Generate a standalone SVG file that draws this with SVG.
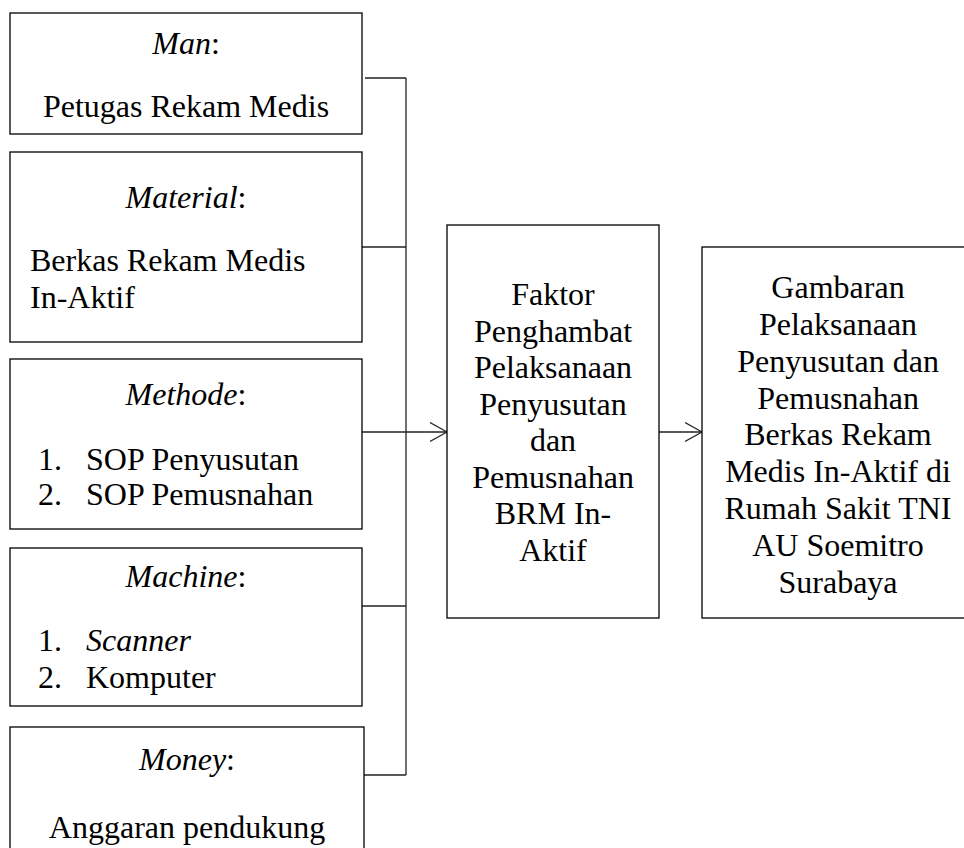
<svg xmlns="http://www.w3.org/2000/svg" width="964" height="848" viewBox="0 0 964 848">
<defs>
<style>
.box{fill:#fff;stroke:#000;stroke-width:1.3}
.t{font-family:"Liberation Serif","Times New Roman",serif;font-size:32px;fill:#000}
.c{text-anchor:middle}
.i{font-style:italic}
.ln{fill:none;stroke:#222;stroke-width:1.3}
</style>
<marker id="arr" markerUnits="userSpaceOnUse" markerWidth="20" markerHeight="22" refX="17" refY="10" orient="auto">
<path d="M0,0.5 L17,10 L0,19.5" fill="none" stroke="#222" stroke-width="1.2"/>
</marker>
</defs>
<rect width="964" height="848" fill="#fff"/>
<g id="connectors">
<line class="ln" x1="406" y1="78" x2="406" y2="775"/>
<line class="ln" x1="365" y1="78" x2="406" y2="78"/>
<line class="ln" x1="361" y1="247" x2="406" y2="247"/>
<line class="ln" x1="362" y1="606" x2="406" y2="606"/>
<line class="ln" x1="362" y1="775" x2="406" y2="775"/>
<line class="ln" x1="362" y1="432" x2="447" y2="432" marker-end="url(#arr)"/>
<line class="ln" x1="659" y1="432" x2="702" y2="432" marker-end="url(#arr)"/>
</g>
<g id="man">
<rect class="box" x="10" y="13" width="352" height="121"/>
<text class="t c" x="186" y="54"><tspan class="i">Man</tspan>:</text>
<text class="t c" x="186" y="117">Petugas Rekam Medis</text>
</g>
<g id="material">
<rect class="box" x="10" y="152" width="352" height="190"/>
<text class="t c" x="186" y="208"><tspan class="i">Material</tspan>:</text>
<text class="t" x="30" y="271">Berkas Rekam Medis</text>
<text class="t" x="30" y="308">In-Aktif</text>
</g>
<g id="methode">
<rect class="box" x="10" y="359" width="352" height="170"/>
<text class="t c" x="186" y="405"><tspan class="i">Methode</tspan>:</text>
<text class="t" x="38" y="470">1.</text>
<text class="t" x="86" y="470">SOP Penyusutan</text>
<text class="t" x="38" y="505">2.</text>
<text class="t" x="86" y="505">SOP Pemusnahan</text>
</g>
<g id="machine">
<rect class="box" x="10" y="548" width="352" height="158"/>
<text class="t c" x="186" y="587"><tspan class="i">Machine</tspan>:</text>
<text class="t" x="38" y="651">1.</text>
<text class="t i" x="86" y="651">Scanner</text>
<text class="t" x="38" y="688">2.</text>
<text class="t" x="86" y="688">Komputer</text>
</g>
<g id="money">
<rect class="box" x="10" y="727" width="354" height="140"/>
<text class="t c" x="187" y="770"><tspan class="i">Money</tspan>:</text>
<text class="t c" x="187" y="838">Anggaran pendukung</text>
</g>
<g id="faktor">
<rect class="box" x="447" y="225" width="212" height="393"/>
<text class="t c" x="553" y="305">Faktor</text>
<text class="t c" x="553" y="342">Penghambat</text>
<text class="t c" x="553" y="378">Pelaksanaan</text>
<text class="t c" x="553" y="415">Penyusutan</text>
<text class="t c" x="553" y="451">dan</text>
<text class="t c" x="553" y="488">Pemusnahan</text>
<text class="t c" x="553" y="524">BRM In-</text>
<text class="t c" x="553" y="561">Aktif</text>
</g>
<g id="gambaran">
<rect class="box" x="702" y="247" width="274" height="371"/>
<text class="t c" x="838" y="298">Gambaran</text>
<text class="t c" x="838" y="335">Pelaksanaan</text>
<text class="t c" x="838" y="372">Penyusutan dan</text>
<text class="t c" x="838" y="409">Pemusnahan</text>
<text class="t c" x="838" y="445">Berkas Rekam</text>
<text class="t c" x="838" y="482">Medis In-Aktif di</text>
<text class="t c" x="838" y="519">Rumah Sakit TNI</text>
<text class="t c" x="838" y="556">AU Soemitro</text>
<text class="t c" x="838" y="593">Surabaya</text>
</g>
</svg>
